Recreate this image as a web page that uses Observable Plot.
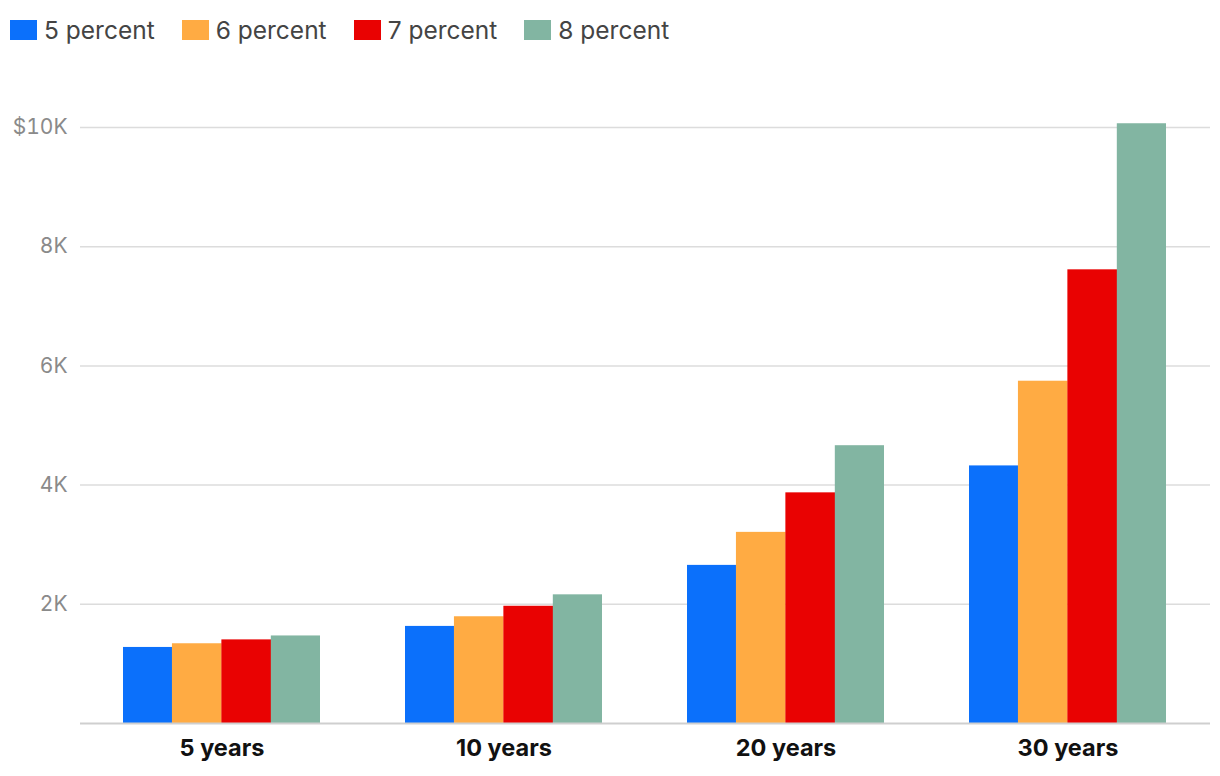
<!DOCTYPE html>
<html>
<head>
<meta charset="utf-8">
<script src="https://cdn.jsdelivr.net/npm/d3@7"></script>
<script src="https://cdn.jsdelivr.net/npm/@observablehq/plot@0.6"></script>
<style>
  html, body { margin: 0; padding: 0; background: #fff; }
  body { width: 1220px; height: 776px; overflow: hidden; font-family: Inter, "Noto Sans", sans-serif; }
  #legend { height: 60px; display: flex; align-items: center; padding-left: 10px; box-sizing: border-box; }
  .item { display: flex; align-items: center; margin-right: 27px; font-size: 24.5px; color: #444; }
  .sw { width: 27px; height: 20px; margin-right: 7px; }
  #chart svg { display: block; }
</style>
</head>
<body>
<div id="legend"></div>
<div id="chart"></div>
<script>
const periods = ["5 years", "10 years", "20 years", "30 years"];
const series = ["5 percent", "6 percent", "7 percent", "8 percent"];
const colors = ["#0b70fb", "#ffab43", "#e90202", "#82b5a2"];
const v5 = [1276, 1629, 2653, 4322];
const v6 = [1338, 1791, 3207, 5743];
const v7 = [1403, 1967, 3870, 7612];
const v8 = [1469, 2159, 4661, 10063];
const yTicks = [2000, 4000, 6000, 8000, 10000];
const yTickLabels = ["2K", "4K", "6K", "8K", "$10K"];

const valuesBySeries = [v5, v6, v7, v8];

const legend = document.getElementById("legend");
series.forEach((s, i) => {
  const it = document.createElement("div");
  it.className = "item";
  it.innerHTML = `<span class="sw" style="background:${colors[i]}"></span><span>${s}</span>`;
  legend.appendChild(it);
});

const W = 1220, H = 716;
const xRange = [80, 1210];
const pInner = 0.3, pOuter = 0.15;
const step = (xRange[1] - xRange[0]) / (periods.length - pInner + 2 * pOuter);
const bw = step * (1 - pInner);
const sub = bw / series.length;

const barMarks = valuesBySeries.map((vals, i) => {
  const data = periods.map((p, j) => ({period: p, value: vals[j]}));
  return Plot.barY(data, {
    x: "period", y: "value", fill: colors[i],
    insetLeft: i * sub - (i > 0 ? 0.5 : 0),
    insetRight: (series.length - 1 - i) * sub - (i < series.length - 1 ? 0.5 : 0)
  });
});

const chart = Plot.plot({
  width: W,
  height: H,
  marginLeft: 80,
  marginRight: 10,
  marginTop: 67,
  marginBottom: 53,
  style: {fontFamily: "Inter, 'Noto Sans', sans-serif", background: "#fff"},
  x: {domain: periods, paddingInner: pInner, paddingOuter: pOuter, label: null},
  y: {domain: [0, 10000], label: null},
  marks: [
    Plot.ruleY(yTicks, {stroke: "#dcdcdc", strokeWidth: 1.5}),
    ...barMarks,
    Plot.ruleY([0], {stroke: "#cfcfcf", strokeWidth: 2}),
    Plot.axisY(yTicks, {tickSize: 0, tickPadding: 13, fontSize: 21, fill: "#8a8a8a",
      tickFormat: (d) => yTickLabels[yTicks.indexOf(d)], label: null}),
    Plot.axisX({tickSize: 0, tickPadding: 16, fontSize: 23.5, fontWeight: "bold", fill: "#111", label: null})
  ]
});
document.getElementById("chart").appendChild(chart);
</script>
</body>
</html>
